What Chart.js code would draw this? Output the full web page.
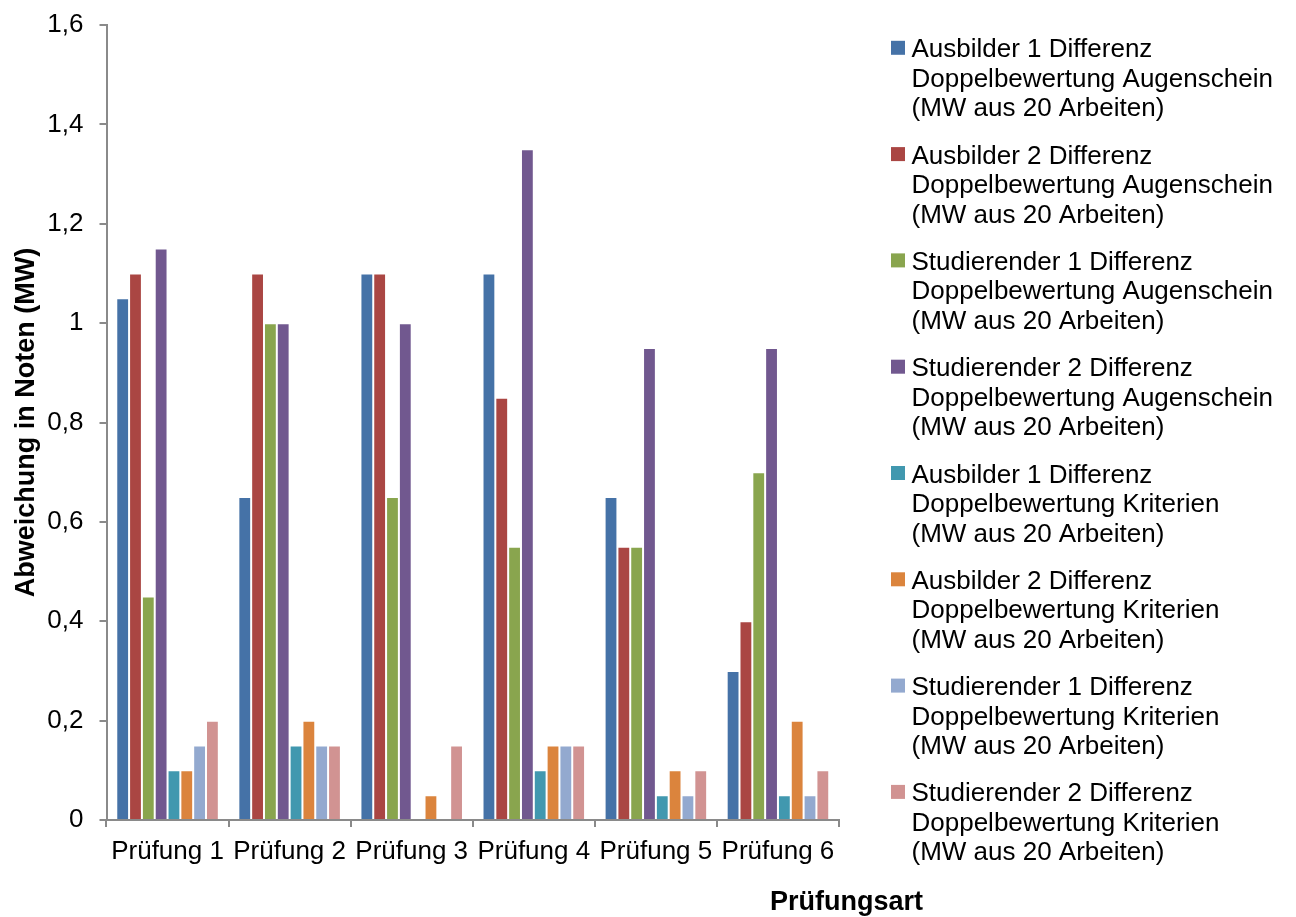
<!DOCTYPE html>
<html>
<head>
<meta charset="utf-8">
<script src="https://cdn.jsdelivr.net/npm/chart.js@4/dist/chart.umd.min.js"></script>
<style>
  html, body { margin: 0; padding: 0; background: #ffffff; }
  #wrap { position: relative; width: 1296px; height: 917px; }
</style>
</head>
<body>
<div id="wrap"><canvas id="c" width="1296" height="917"></canvas></div>
<script>
const categories = ["Prüfung 1", "Prüfung 2", "Prüfung 3", "Prüfung 4", "Prüfung 5", "Prüfung 6"];

const seriesNames = [
  ["Ausbilder 1 Differenz", "Doppelbewertung Augenschein", "(MW aus 20 Arbeiten)"],
  ["Ausbilder 2 Differenz", "Doppelbewertung Augenschein", "(MW aus 20 Arbeiten)"],
  ["Studierender 1 Differenz", "Doppelbewertung Augenschein", "(MW aus 20 Arbeiten)"],
  ["Studierender 2 Differenz", "Doppelbewertung Augenschein", "(MW aus 20 Arbeiten)"],
  ["Ausbilder 1 Differenz", "Doppelbewertung Kriterien", "(MW aus 20 Arbeiten)"],
  ["Ausbilder 2 Differenz", "Doppelbewertung Kriterien", "(MW aus 20 Arbeiten)"],
  ["Studierender 1 Differenz", "Doppelbewertung Kriterien", "(MW aus 20 Arbeiten)"],
  ["Studierender 2 Differenz", "Doppelbewertung Kriterien", "(MW aus 20 Arbeiten)"]
];

const ausbilder1Augenschein    = [1.05, 0.65, 1.10, 1.10, 0.65, 0.30];
const ausbilder2Augenschein    = [1.10, 1.10, 1.10, 0.85, 0.55, 0.40];
const studierender1Augenschein = [0.45, 1.00, 0.65, 0.55, 0.55, 0.70];
const studierender2Augenschein = [1.15, 1.00, 1.00, 1.35, 0.95, 0.95];
const ausbilder1Kriterien      = [0.10, 0.15, 0.00, 0.10, 0.05, 0.05];
const ausbilder2Kriterien      = [0.10, 0.20, 0.05, 0.15, 0.10, 0.20];
const studierender1Kriterien   = [0.15, 0.15, 0.00, 0.15, 0.05, 0.05];
const studierender2Kriterien   = [0.20, 0.15, 0.15, 0.15, 0.10, 0.10];

const yTickValues = [0, 0.2, 0.4, 0.6, 0.8, 1, 1.2, 1.4, 1.6];

const seriesValues = [
  ausbilder1Augenschein, ausbilder2Augenschein, studierender1Augenschein, studierender2Augenschein,
  ausbilder1Kriterien, ausbilder2Kriterien, studierender1Kriterien, studierender2Kriterien
];
const colors = ["#4572A7", "#AA4643", "#89A54E", "#71588F", "#4198AF", "#DB843D", "#93A9CF", "#D19392"];

const FONT = "'Liberation Sans', Arial, Helvetica, sans-serif";
const AXIS_GRAY = "#8a8a8a";

const legendPlugin = {
  id: 'sideLegend',
  afterDraw(chart) {
    const ctx = chart.ctx;
    ctx.save();
    ctx.font = "26px " + FONT;
    ctx.textAlign = "left";
    ctx.textBaseline = "alphabetic";
    chart.data.datasets.forEach((ds, k) => {
      const base = 57.3 + 106.3 * k;
      ctx.fillStyle = ds.backgroundColor;
      ctx.fillRect(891, base - 16.5, 14, 14);
      ctx.fillStyle = "#000";
      ds.labelLines.forEach((line, i) => {
        ctx.fillText(line, 911.5, base + 29.5 * i);
      });
    });
    ctx.font = "bold 27px " + FONT;
    ctx.textAlign = "center";
    ctx.fillStyle = "#000";
    ctx.fillText("Prüfungsart", 846.5, 910);
    ctx.restore();
  }
};

new Chart(document.getElementById('c'), {
  type: 'bar',
  data: {
    labels: categories,
    datasets: seriesValues.map((vals, k) => ({
      label: seriesNames[k].join(' '),
      labelLines: seriesNames[k],
      data: vals,
      backgroundColor: colors[k],
      borderColor: 'rgba(255,255,255,0.28)',
      borderWidth: 1,
      borderSkipped: 'bottom',
      categoryPercentage: 0.84,
      barPercentage: 1.0
    }))
  },
  options: {
    responsive: false,
    animation: false,
    devicePixelRatio: 1,
    layout: { padding: { top: 25, right: 457, bottom: 0, left: 0 } },
    plugins: {
      legend: { display: false },
      tooltip: { enabled: false },
      title: { display: false }
    },
    scales: {
      x: {
        afterFit(scale) { scale.height = 97; scale.paddingLeft = 0; scale.paddingRight = 0; },
        grid: {
          display: true,
          drawOnChartArea: false,
          drawTicks: true,
          tickLength: 7,
          offset: true,
          color: AXIS_GRAY,
          lineWidth: 2
        },
        border: { display: true, color: AXIS_GRAY, width: 2 },
        ticks: {
          color: "#000",
          font: { family: FONT, size: 26 },
          padding: 9,
          maxRotation: 0,
          autoSkip: false
        }
      },
      y: {
        min: 0,
        max: 1.6,
        afterFit(scale) { scale.width = 106.5; scale.paddingTop = 0; scale.paddingBottom = 0; },
        afterBuildTicks(scale) { scale.ticks = yTickValues.map(v => ({ value: v })); },
        grid: {
          display: true,
          drawOnChartArea: false,
          drawTicks: true,
          tickLength: 7,
          color: AXIS_GRAY,
          lineWidth: 2
        },
        border: { display: true, color: AXIS_GRAY, width: 2 },
        ticks: {
          color: "#000",
          font: { family: FONT, size: 26 },
          padding: 16,
          callback: v => (Math.round(v * 10) / 10).toString().replace('.', ',')
        },
        title: {
          display: true,
          text: "Abweichung in Noten (MW)",
          color: "#000",
          font: { family: FONT, size: 27, weight: 'bold', lineHeight: 1.2 },
          padding: { top: 10, bottom: 0 }
        }
      }
    }
  },
  plugins: [legendPlugin]
});
</script>
</body>
</html>
